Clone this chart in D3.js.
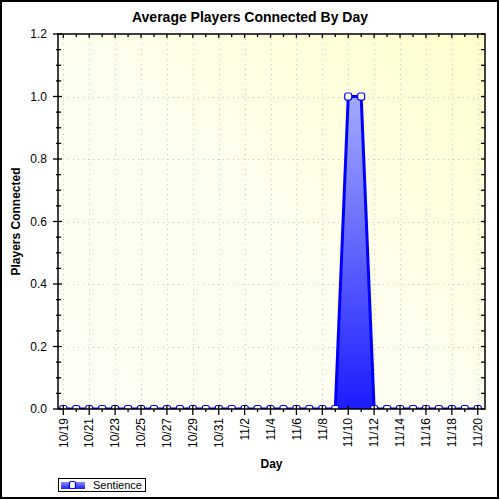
<!DOCTYPE html>
<html><head><meta charset="utf-8">
<script src="https://cdn.jsdelivr.net/npm/d3@7"></script>
<style>body{margin:0;background:#fff}svg{display:block;font-family:Arial,"Liberation Sans",sans-serif}</style>
</head><body>
<svg id="c" width="500" height="500"></svg>
<script>
const days = ["10/19","10/20","10/21","10/22","10/23","10/24","10/25","10/26","10/27","10/28","10/29","10/30","10/31",
  "11/1","11/2","11/3","11/4","11/5","11/6","11/7","11/8","11/9","11/10","11/11","11/12","11/13","11/14","11/15","11/16","11/17","11/18","11/19","11/20"];
const values = [0,0,0,0,0,0,0,0,0,0,0,0,0,0,0,0,0,0,0,0,0,0,1,1,0,0,0,0,0,0,0,0,0];
const yTicks = [0,0.2,0.4,0.6,0.8,1.0,1.2];
const seriesName = "Sentience";

const svg = d3.select("#c");
const L=58, R=485, T=34, B=409;
const x = d3.scaleLinear().domain([-0.41, 32.56]).range([L, R]);
const y = d3.scaleLinear().domain([0, 1.2]).range([B, T]);

const defs = svg.append("defs");
const bg = defs.append("linearGradient").attr("id","bg").attr("x1","0").attr("y1","1").attr("x2","1").attr("y2","0");
bg.append("stop").attr("offset","0").attr("stop-color","#fffff6");
bg.append("stop").attr("offset","0.5").attr("stop-color","#fffff0");
bg.append("stop").attr("offset","1").attr("stop-color","#ffffcc");
const ag = defs.append("linearGradient").attr("id","ag").attr("gradientUnits","userSpaceOnUse")
  .attr("x1",0).attr("y1",y(1)).attr("x2",0).attr("y2",B);
ag.append("stop").attr("offset","0").attr("stop-color","#a4aaff");
ag.append("stop").attr("offset","1").attr("stop-color","#1c1cff");
const lg = defs.append("linearGradient").attr("id","lg").attr("x1","0").attr("y1","0").attr("x2","0").attr("y2","1");
lg.append("stop").attr("offset","0").attr("stop-color","#8890ff");
lg.append("stop").attr("offset","1").attr("stop-color","#1c1cff");
defs.append("clipPath").attr("id","clip").append("rect").attr("x",L).attr("y",T).attr("width",R-L).attr("height",B-T);

// outer border
svg.append("rect").attr("x",1).attr("y",1).attr("width",497).attr("height",497).attr("fill","#fff").attr("stroke","#000").attr("stroke-width",2);

// plot background
svg.append("rect").attr("x",L).attr("y",T).attr("width",R-L).attr("height",B-T).attr("fill","url(#bg)");

// grid
const g = svg.append("g").attr("stroke","#c8c8c8").attr("stroke-width",1).attr("stroke-dasharray","1,4");
days.forEach((d,i)=>{ if(i%2===0) g.append("line").attr("x1",Math.round(x(i))+0.5).attr("x2",Math.round(x(i))+0.5).attr("y1",T).attr("y2",B); });
yTicks.forEach(v=>{ if(v>0 && v<1.2) g.append("line").attr("x1",L).attr("x2",R).attr("y1",Math.round(y(v))+0.5).attr("y2",Math.round(y(v))+0.5); });

// series
const plot = svg.append("g").attr("clip-path","url(#clip)");
const area = d3.area().x((d,i)=>x(i)).y0(B).y1(d=>y(d));
const line = d3.line().x((d,i)=>x(i)).y(d=>y(d));
plot.append("path").datum(values).attr("d",area).attr("fill","url(#ag)");
plot.append("path").datum(values).attr("d",line).attr("fill","none").attr("stroke","#0000ff").attr("stroke-width",3).attr("stroke-linejoin","round");
plot.selectAll("rect.m").data(values).join("rect").attr("class","m")
  .attr("x",(d,i)=>x(i)-3.5).attr("y",d=>y(d)-3.5).attr("width",7).attr("height",7).attr("rx",2)
  .attr("fill","#fff").attr("stroke","#0000ff").attr("stroke-width",1.2);

// frame
svg.append("rect").attr("x",L).attr("y",T).attr("width",R-L).attr("height",B-T).attr("fill","none").attr("stroke","#000").attr("stroke-width",1.5);

// ticks
const tk = svg.append("g").attr("stroke","#000").attr("stroke-width",1.3);
for(let k=0;k<=24;k++){
  const v=k*0.05, yy=y(v);
  if(k%4===0){ tk.append("line").attr("x1",L-5).attr("x2",L+4).attr("y1",yy).attr("y2",yy); }
  else { tk.append("line").attr("x1",L-2).attr("x2",L+3).attr("y1",yy).attr("y2",yy); }
  tk.append("line").attr("x1",R-4).attr("x2",R).attr("y1",yy).attr("y2",yy);
}
days.forEach((d,i)=>{
  const xx=x(i);
  if(i%2===0) tk.append("line").attr("x1",xx).attr("x2",xx).attr("y1",B-4).attr("y2",B+6);
  else tk.append("line").attr("x1",xx).attr("x2",xx).attr("y1",B).attr("y2",B+3);
  tk.append("line").attr("x1",xx).attr("x2",xx).attr("y1",T).attr("y2",T+(i%2===0?4:3));
});

// tick labels
svg.append("g").selectAll("text").data(yTicks).join("text")
  .attr("x",47).attr("y",d=>y(d)).attr("dy","0.35em").attr("text-anchor","end")
  .attr("font-size",12).attr("fill","#000").text(d=>d.toFixed(1));
svg.append("g").selectAll("text").data(days.map((d,i)=>[d,i]).filter(p=>p[1]%2===0)).join("text")
  .attr("transform",p=>`translate(${x(p[1])},418) rotate(-90)`).attr("dy","0.35em").attr("text-anchor","end")
  .attr("font-size",12).attr("fill","#000").text(p=>p[0]);

// titles
svg.append("text").attr("x",250).attr("y",22).attr("text-anchor","middle").attr("font-size",14).attr("font-weight","bold").text("Average Players Connected By Day");
svg.append("text").attr("x",(L+R)/2).attr("y",468).attr("text-anchor","middle").attr("font-size",12).attr("font-weight","bold").text("Day");
svg.append("text").attr("transform",`translate(20,${(T+B)/2}) rotate(-90)`).attr("text-anchor","middle").attr("font-size",12).attr("font-weight","bold").text("Players Connected");

// legend
const lgd = svg.append("g");
lgd.append("rect").attr("x",58.5).attr("y",478.5).attr("width",87).attr("height",13).attr("fill","#fff").attr("stroke","#000").attr("stroke-width",1);
lgd.append("rect").attr("x",61).attr("y",482).attr("width",24).attr("height",7).attr("fill","url(#lg)");
lgd.append("rect").attr("x",69.5).attr("y",481.5).attr("width",6).attr("height",7).attr("rx",1.5).attr("fill","#fff").attr("stroke","#0000ff").attr("stroke-width",1.2);
lgd.append("text").attr("x",93).attr("y",488.5).attr("font-size",11).text(seriesName);
</script>
</body></html>
